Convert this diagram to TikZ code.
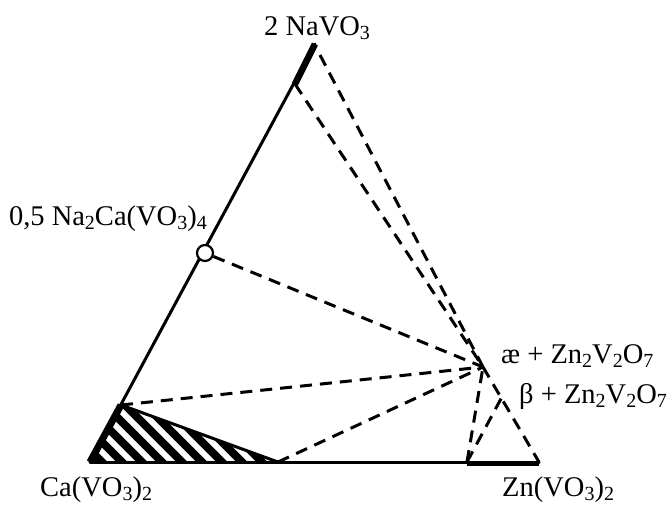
\documentclass[tikz,border=0pt]{standalone}
\usepackage{fontspec}
\setmainfont{Liberation Serif}
\newcommand\sbs[1]{\raisebox{-0.15em}{\fontsize{20}{20}\selectfont #1}}
\begin{document}
\begin{tikzpicture}[x=1pt,y=-1pt,
  edge/.style={line width=3pt,line cap=round},
  thickedge/.style={line width=6.5pt},
  dashline/.style={line width=3pt,dash pattern=on 12pt off 8pt},
  lbl/.style={font=\fontsize{28.5}{30}\selectfont,inner sep=0pt,anchor=base west}]
\useasboundingbox (0,0) rectangle (671,507);
% vertices and points
\coordinate (T) at (315,44);
\coordinate (C) at (90,462);
\coordinate (Z) at (539,462);
\coordinate (N1) at (295,84);
\coordinate (Q) at (121,405);
\coordinate (R) at (278,462);
\coordinate (S) at (467,462);
\coordinate (A) at (483,367);
\coordinate (B) at (503,395);
\coordinate (TD) at (320,55);
% hatched region
\begin{scope}
  \clip (C) -- (Q) -- (R) -- cycle;
  \foreach \k in {-8,...,14}
    \draw[line width=8pt] (60+20*\k,360) -- ++(120,120);
\end{scope}
\draw[line width=3pt,line join=round] (C) -- (Q) -- (R);
% solid edges
\draw[edge] (C) -- (T);
\draw[edge] (C) -- (Z);
\draw[thickedge] (T) -- (N1);
\draw[line width=7pt] (C) -- (Q);
\draw[line width=5pt] ([yshift=-1pt]S) -- ([yshift=-1pt]Z);
% circle
\node[circle,draw,line width=2.2pt,fill=white,minimum size=16pt,inner sep=0pt] (P) at (205,253) {};
% dashed tie lines
\draw[dashline] (TD) -- (A);
\draw[dashline] (A) -- (Z);
\draw[dashline] (N1) -- (A);
\draw[dashline] (P) -- (A);
\draw[dashline] (Q) -- (A);
\draw[dashline] (R) -- (A);
\draw[dashline] (S) -- (A);
\draw[dashline] (S) -- (B);
% labels
\node[lbl] (l1) at (264,35) {2 NaVO\sbs{3}};
\node[lbl,anchor=base east] (l2) at (207,225) {0,5 Na\sbs{2}Ca(VO\sbs{3})\sbs{4}};
\node[lbl] (l3) at (501,363) {æ + Zn\sbs{2}V\sbs{2}O\sbs{7}};
\node[lbl] (l4) at (519,403) {β + Zn\sbs{2}V\sbs{2}O\sbs{7}};
\node[lbl] (l5) at (40,496) {Ca(VO\sbs{3})\sbs{2}};
\node[lbl] (l6) at (502,496) {Zn(VO\sbs{3})\sbs{2}};
\end{tikzpicture}
\end{document}
